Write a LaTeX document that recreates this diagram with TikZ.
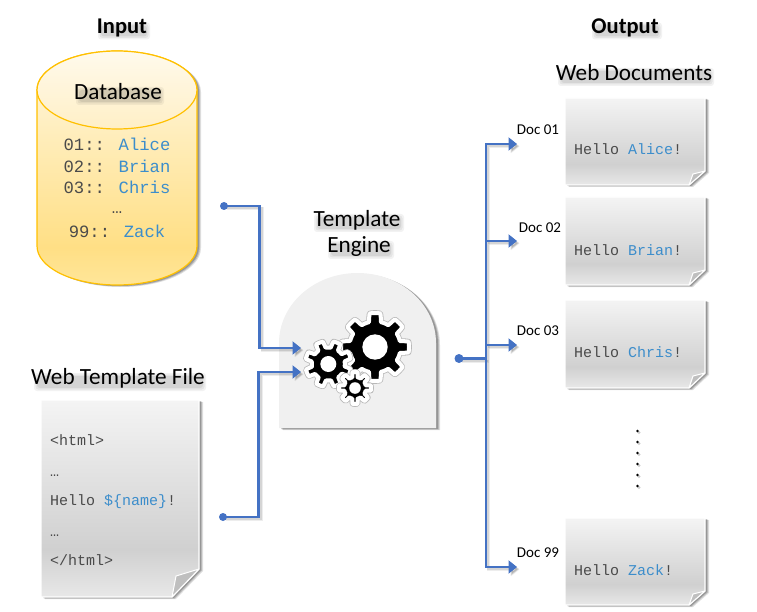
\documentclass[tikz,border=0pt]{standalone}
\usepackage{fontspec}
\setmainfont{Carlito}
\newfontfamily\codefont{Liberation Mono}
\usetikzlibrary{arrows.meta}
\definecolor{linkblue}{HTML}{4472C4}
\definecolor{codeblue}{HTML}{3C8DCB}
\definecolor{codegray}{HTML}{4A4A4A}
\definecolor{dbedge}{HTML}{FFC000}
\definecolor{papertop}{HTML}{F4F4F4}
\definecolor{papermid}{HTML}{D0D0D0}
\definecolor{paperbot}{HTML}{E8E8E8}
\definecolor{dbtop}{HTML}{FFF8E4}
\definecolor{dbmid}{HTML}{FFDF85}
\definecolor{dbbot}{HTML}{FFE699}
\definecolor{lidtop}{HTML}{FFFAEC}
\definecolor{lidbot}{HTML}{FFEFC6}
\pgfdeclareverticalshading{papershade}{100bp}{
  color(0bp)=(paperbot); color(25bp)=(paperbot); color(37bp)=(papermid); color(75bp)=(papertop); color(100bp)=(papertop)}
\pgfdeclareverticalshading{dbshade}{100bp}{
  color(0bp)=(dbbot); color(25bp)=(dbbot); color(33bp)=(dbmid); color(75bp)=(dbtop); color(100bp)=(dbtop)}
\pgfdeclareverticalshading{dblid}{100bp}{
  color(0bp)=(lidbot); color(25bp)=(lidbot); color(75bp)=(lidtop); color(100bp)=(lidtop)}
\newcommand{\blu}[1]{\textcolor{codeblue}{#1}}
% soft smudge standing in for a blurred text shadow: centre x, centre y, width, height
\newcommand{\smudge}[4]{%
  \foreach \gg/\oo in {3/.05,1.5/.06,0/.07}{
    \fill[black,opacity=\oo,rounded corners=3pt]
      (#1-#3/2-\gg,#2-#4/2-\gg) rectangle (#1+#3/2+\gg,#2+#4/2+\gg);}}
\tikzset{
  softshadow/.style={
    preaction={fill=black,opacity=.12,transform canvas={shift={(4pt,-2pt)}}},
    preaction={fill=black,opacity=.16,transform canvas={shift={(3pt,-1.5pt)}}},
    preaction={fill=black,opacity=.20,transform canvas={shift={(2pt,-1pt)}}}},
  link/.style={draw=linkblue,line width=2.1pt,line join=miter,
    preaction={draw=black,opacity=.07,line width=3pt,transform canvas={shift={(2.5pt,-2.5pt)}}},
    preaction={draw=black,opacity=.10,line width=2pt,transform canvas={shift={(2pt,-2pt)}}}},
  arrowed/.style={-{Triangle[length=8.5pt,width=13pt]}},
  title/.style={inner sep=0pt,font=\fontsize{22.5}{24}\selectfont\bfseries},
  heading/.style={inner sep=0pt,font=\fontsize{23.2}{26}\selectfont},
  doclabel/.style={inner sep=0pt,font=\fontsize{15}{17}\selectfont,text=black},
  dbtext/.style={inner sep=0pt,font=\fontsize{17.2}{20}\selectfont\codefont,text=codegray},
  code/.style={inner sep=0pt,anchor=base west,font=\fontsize{15}{18}\selectfont\codefont,text=codegray},
  fold/.style={fill=black!25,draw=white,line width=1pt,line join=round},
  sheet/.style={shading=papershade,draw=white,line width=1.2pt,line join=round,softshadow},
}
% #1 left #2 top #3 right #4 fold y #5 fold x #6 bottom #7 inner x #8 inner y
\newcommand{\papersheet}[8]{%
  \path[sheet] (#1,#2) -- (#3,#2) -- (#3,#4) -- (#5,#6) -- (#1,#6) -- cycle;
  \path[fold] (#3,#4) -- (#5,#6) -- (#7,#8) -- cycle;}
\newcommand{\gear}[6]{% cx cy outer root teeth phase
  \foreach \ww/\cc in {5.6/black!28,4/white}{
    \draw[line width=\ww pt,draw=\cc,fill=black,line join=round]
      plot[domain=0:360,samples=240,variable=\t]
      ({#1+(#4+(#3-#4)*min(1,max(0,0.5+1.7*cos(#5*(\t-#6)))))*cos(\t)},
       {#2+(#4+(#3-#4)*min(1,max(0,0.5+1.7*cos(#5*(\t-#6)))))*sin(\t)}) -- cycle;}
}
\begin{document}
\begin{tikzpicture}[x=1pt,y=-1pt]
\useasboundingbox (0,0) rectangle (757,612);
% --- database cylinder
\path[shading=dbshade,draw=dbedge,line width=1.2pt,softshadow]
  (37,90) arc[start angle=180,end angle=360,x radius=80,y radius=39]
  -- (197,246) arc[start angle=0,end angle=180,x radius=80,y radius=39] -- cycle;
\path[shading=dblid,draw=dbedge,line width=1.2pt] (117,90) ellipse[x radius=80,y radius=39];
% --- template file
\papersheet{41}{400}{199}{569}{172}{597}{176}{576}
% --- engine
\path[fill=black!6,softshadow] (279,428) -- (279,343)
  arc[start angle=180,end angle=360,x radius=78.5,y radius=70] -- (436,428) -- cycle;
\gear{375}{347}{34}{25.5}{8}{0}
\fill[white] (375,347) circle[radius=12.7];
\gear{328.3}{364}{23}{16.5}{8}{22}
\fill[white] (328.3,364) circle[radius=8];
\gear{355}{388}{16}{11}{8}{0}
\fill[white] (355,388) circle[radius=5.8];
% --- output documents
\papersheet{565}{98}{705}{171}{689}{185}{693}{174}
\papersheet{565}{197}{705}{270}{689}{285}{693}{273}
\papersheet{565}{300}{705}{373}{689}{388}{693}{376}
\papersheet{565}{518}{705}{591}{689}{605}{693}{594}
% --- title shadows
\smudge{124}{31}{46}{11}
\smudge{627}{31}{64}{11}
\smudge{120}{96}{82}{12}
\smudge{120}{382}{166}{12}
\smudge{359}{223}{84}{12}
\smudge{361}{250}{60}{12}
\smudge{636}{77}{150}{12}
% --- titles
\node[title] (input) at (122,28) {Input};
\node[title] (output) at (625,28) {Output};
\node[heading] (dbname) at (118,92) {Database};
\node[heading] (tplname) at (118,378.5) {Web Template File};
\node[heading] (engine1) at (357,220) {Template};
\node[heading] (engine2) at (359,247) {Engine};
\node[heading] (webdocs) at (634,73) {Web Documents};
% --- database lines
\node[dbtext] (r1) at (117,144) {01:: \blu{Alice}};
\node[dbtext] (r2) at (117,166) {02:: \blu{Brian}};
\node[dbtext] (r3) at (117,187) {03:: \blu{Chris}};
\node[dbtext] (r4) at (117,213) {…};
\node[dbtext] (r5) at (117,231) {99:: \blu{Zack}};
% --- template lines
\node[code] (t1) at (50,445) {<html>};
\node[code] (t2) at (50,476) {…};
\node[code] (t3) at (50,505) {Hello \blu{\$\{name\}}!};
\node[code] (t4) at (50,536) {…};
\node[code] (t5) at (50,565) {</html>};
% --- output text
\node[code] (h1) at (574,155) {Hello \blu{Alice}!};
\node[code] (h2) at (574,255) {Hello \blu{Brian}!};
\node[code] (h3) at (574,357) {Hello \blu{Chris}!};
\node[code] (h4) at (574,575) {Hello \blu{Zack}!};
\node[doclabel] (d1) at (538,130) {Doc 01};
\node[doclabel] (d2) at (540,228) {Doc 02};
\node[doclabel] (d3) at (538,331) {Doc 03};
\node[doclabel] (d4) at (538,553) {Doc 99};
% --- vertical dots
\foreach \yy in {431,442,453,464,475,486}{
  \fill[black!20] (639,\yy+1.5) circle[radius=1.6];
  \fill[black] (637.5,\yy) circle[radius=1.3];}
% --- connector end points
\coordinate (dbout) at (224,206);
\coordinate (dbturn) at (259.5,206);
\coordinate (engIn1) at (301,348);
\coordinate (tplout) at (223,517);
\coordinate (tplturn) at (258.5,517);
\coordinate (engIn2) at (301,372);
\coordinate (engOut) at (459,358.5);
\coordinate (junction) at (486,358.5);
\coordinate (top) at (486,144);
\coordinate (bottom) at (486,567);
\coordinate (a1) at (517,144);
\coordinate (a2) at (517,241);
\coordinate (a3) at (517,345);
\coordinate (a4) at (517,567);
% --- connectors
\draw[link,arrowed] (dbout) -- (dbturn) |- (engIn1);
\fill[linkblue] (dbout) circle[radius=4];
\draw[link,arrowed] (tplout) -- (tplturn) |- (engIn2);
\fill[linkblue] (tplout) circle[radius=4];
\draw[link] (engOut) -- (junction);
\fill[linkblue] (engOut) circle[radius=4.5];
\draw[link,arrowed] (junction) -- (top) -- (a1);
\draw[link,arrowed] (junction) -- (bottom) -- (a4);
\draw[link,arrowed] (junction |- a2) -- (a2);
\draw[link,arrowed] (junction |- a3) -- (a3);
\end{tikzpicture}
\end{document}
